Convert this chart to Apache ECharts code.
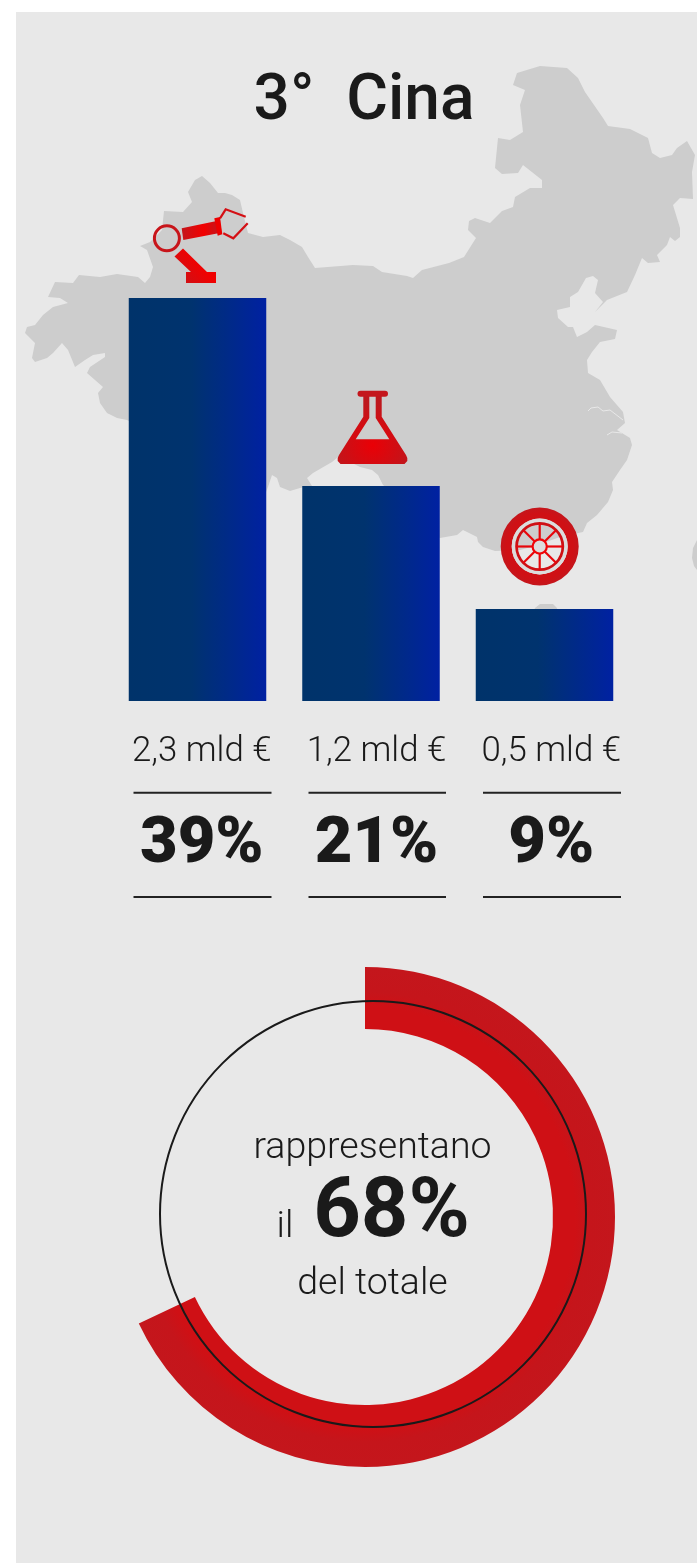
<!DOCTYPE html>
<html lang="it">
<head>
<meta charset="utf-8">
<title>3° Cina</title>
<style>html,body{margin:0;padding:0;background:#fff}#c{width:697px;height:1563px}</style>
<script src="https://cdn.jsdelivr.net/npm/echarts@6/dist/echarts.min.js"></script>
</head>
<body>
<div id="c"></div>
<script>
// ---- data ----
const titleText = '3°  Cina';
const categories = ['Macchinari', 'Chimica', 'Gomma'];
const barValues = [39, 20.8, 8.9];
const amountLabels = ['2,3 mld €', '1,2 mld €', '0,5 mld €'];
const shareLabels = ['39%', '21%', '9%'];
const totalShare = 68;
const restShare = 32;
const centerLines = ['rappresentano', 'il', '68%', 'del totale'];

// ---- decorative map silhouette, in page pixels ----
const mapOutline = [[202,176],[210,183],[218,193],[225,193],[232,195],[240,200],[243,213],[248,233],[263,237],[280,235],[290,240],[302,247],[308,257],[315,268],[353,265],[373,266],[382,272],[407,276],[413,278],[422,270],[449,263],[464,257],[476,238],[468,230],[469,221],[475,218],[490,223],[502,211],[513,207],[515,197],[530,188],[542,188],[542,180],[523,165],[518,173],[502,174],[495,168],[498,138],[510,140],[523,132],[520,105],[525,90],[513,85],[517,73],[540,66],[567,68],[578,78],[585,92],[603,118],[608,126],[630,129],[648,138],[652,153],[660,158],[672,155],[677,148],[687,141],[695,155],[692,172],[693,199],[680,198],[673,205],[680,228],[680,237],[675,241],[670,237],[667,245],[657,255],[660,262],[648,263],[642,258],[635,275],[627,292],[607,300],[595,312],[603,302],[595,293],[598,280],[593,276],[586,278],[578,292],[570,297],[570,307],[557,310],[558,318],[568,327],[573,327],[577,337],[587,332],[595,325],[617,330],[615,339],[600,342],[592,352],[587,360],[588,373],[600,380],[610,397],[623,412],[625,423],[617,430],[630,438],[632,445],[627,460],[620,470],[612,482],[613,490],[608,502],[597,515],[587,523],[583,532],[560,537],[535,546],[520,550],[495,551],[483,547],[478,542],[477,537],[463,530],[457,535],[440,538],[420,530],[390,490],[383,485],[378,475],[372,470],[360,467],[350,462],[338,457],[332,462],[313,473],[307,478],[312,486],[300,488],[290,491],[280,487],[277,478],[272,475],[268,487],[266,492],[127,420],[117,418],[107,413],[100,403],[98,393],[103,387],[87,373],[90,367],[105,357],[105,353],[93,355],[85,360],[75,367],[68,350],[62,343],[53,353],[47,358],[35,362],[32,358],[35,343],[25,333],[27,327],[35,325],[43,315],[53,307],[68,303],[60,298],[48,297],[55,282],[73,283],[79,275],[100,277],[117,274],[138,277],[145,283],[150,277],[153,267],[147,250],[140,246],[150,242],[162,230],[164,211],[183,212],[192,202],[188,192],[195,180]];
const mapTaiwan = [[697,540],[693,548],[692,558],[694,566],[697,570]];
const mapHainan = [[533,612],[535,608],[540,604],[553,604],[557,608],[558,615]];
const mapRivers = [[[588,411],[591,408],[598,407],[603,411],[610,410],[623,420]],[[607,435],[612,432],[622,433]]];

const FONT = 'Roboto';
const INK = '#1a1a1a';
const MAP = '#cdcdcd';
const PANEL = '#e8e8e8';

const barGrad = {type:'linear',x:0,y:0,x2:1,y2:0,colorStops:[{offset:0,color:'#00336a'},{offset:.45,color:'#00336e'},{offset:1,color:'#0021a2'}]};
const iconH = {type:'linear',x:0,y:0,x2:1,y2:0,colorStops:[{offset:0,color:'#c4161c'},{offset:.6,color:'#f20000'},{offset:1,color:'#c4161c'}]};
const iconV = {type:'linear',x:0,y:1,x2:1,y2:0,colorStops:[{offset:0,color:'#c4161c'},{offset:.6,color:'#f20000'},{offset:1,color:'#e00000'}]};
const flaskGrad = {type:'radial',x:.5,y:.72,r:.62,colorStops:[{offset:0,color:'#ea0006'},{offset:1,color:'#bd171d'}]};
const ringGrad = {type:'radial',x:365,y:1217,r:250,global:true,colorStops:[{offset:0,color:'#cf1015'},{offset:.84,color:'#cf1015'},{offset:.9,color:'#c5151b'},{offset:1,color:'#c4161c'}]};

function poly(points, fill, z){return {type:'polygon',silent:true,z:z||5,shape:{points},style:{fill}};}
function stroke(points, col, w, z){return {type:'polyline',silent:true,z:z||5,shape:{points},style:{fill:null,stroke:col,lineWidth:w}};}
function rule(x1,x2,y){return {type:'line',silent:true,z:5,shape:{x1,y1:y,x2,y2:y},style:{stroke:'#222',lineWidth:2}};}
function txt(text,x,y,size,weight,align){return {type:'text',silent:true,z:12,x,y,style:{text,fill:INK,fontFamily:FONT,fontSize:size,fontWeight:weight,align:align||'center',verticalAlign:'middle'}};}

const WX=539.7, WY=546.5;
const wheelParts = [
 {type:'ring',silent:true,z:5,shape:{cx:WX,cy:WY,r:39,r0:28},style:{fill:{type:'radial',x:.5,y:.5,r:.5,colorStops:[{offset:0,color:'#d01015'},{offset:.85,color:'#cf1015'},{offset:1,color:'#c4161c'}]}}},
 {type:'ring',silent:true,z:5,shape:{cx:WX,cy:WY,r:28,r0:24.5},style:{fill:'#dcdcdc'}},
 {type:'ring',silent:true,z:5,shape:{cx:WX,cy:WY,r:24.5,r0:21.8},style:{fill:'#cf1015'}}
];
[0,45,90,135,180,225,270,315].forEach(function(a){
  const c=Math.cos(a*Math.PI/180), s=Math.sin(a*Math.PI/180);
  wheelParts.push({type:'line',silent:true,z:5,shape:{x1:WX+c*7,y1:WY+s*7,x2:WX+c*23,y2:WY+s*23},style:{stroke:'#e8060b',lineWidth:2.2}});
});
wheelParts.push({type:'circle',silent:true,z:6,shape:{cx:WX,cy:WY,r:6},style:{fill:'#dcdcdc'}});
wheelParts.push({type:'ring',silent:true,z:6,shape:{cx:WX,cy:WY,r:8.2,r0:6},style:{fill:'#f00408'}});

const graphics = [
 {type:'rect',silent:true,z:-30,shape:{x:16,y:12,width:681,height:1551},style:{fill:PANEL}},
 poly(mapOutline,MAP,-20), poly(mapTaiwan,MAP,-20), poly(mapHainan,MAP,-20),
 stroke(mapRivers[0],PANEL,1,-19), stroke(mapRivers[1],PANEL,1,-19),
 // robot arm icon
 {type:'ring',silent:true,z:5,shape:{cx:166.9,cy:238.3,r:14,r0:11},style:{fill:'#c8141a'}},
 poly([[181.7,228.3],[216.7,221],[218.3,233.3],[183.3,240]],iconH),
 poly([[214.3,218.3],[220,217],[222.3,234.3],[217.7,235.7]],'#ee0000'),
 stroke([[220,218.3],[225.7,209.3],[245.7,216.7]],'#d40f14',2.2),
 stroke([[223.3,233.3],[233.3,238.3],[247.7,223.3]],'#d40f14',2.2),
 poly([[174.5,256.5],[183,248.5],[207,272],[216,272],[216,283],[186,283],[186,272],[191,272]],iconV),
 // flask icon
 poly([[363.3,396],[369.3,396],[369.3,418],[355.7,439.3],[389.3,439.3],[375.7,418],[375.7,396],[381.7,396],[381.7,416.7],[406,455],[407.3,458],[407.3,461],[404.5,464],[340.5,464],[337.7,461],[337.7,458],[339,455],[363.3,416.7]],flaskGrad),
 {type:'rect',silent:true,z:5,shape:{x:357.5,y:390.7,width:30.5,height:6,r:3},style:{fill:'#c4161c'}}
].concat(wheelParts,[
 // rules
 rule(133.5,271.5,792.8), rule(308.5,446,792.8), rule(483,621,792.8),
 rule(133.5,271.5,897), rule(308.5,446,897), rule(483,621,897),
 // thin circle
 {type:'circle',silent:true,z:10,shape:{cx:373,cy:1214,r:213},style:{fill:null,stroke:INK,lineWidth:2}},
 // centre text
 txt(centerLines[0],372.5,1149,37.5,300),
 txt(centerLines[1],285,1228,37.5,300),
 txt(centerLines[2],391.5,1215,83,700),
 txt(centerLines[3],372.5,1285,37.5,300)
]);

const chart = echarts.init(document.getElementById('c'), null, {renderer:'canvas', width:697, height:1563});
chart.setOption({
  animation:false,
  backgroundColor:'#ffffff',
  title:{text:titleText,left:359,top:66,textAlign:'center',textStyle:{fontFamily:FONT,fontSize:64,fontWeight:500,color:INK}},
  grid:[
    {left:110.75,width:520.5,top:287.67,height:413.33},
    {left:114.4,width:524.25,top:700,height:1}
  ],
  xAxis:[
    {gridIndex:0,type:'category',data:categories,show:false},
    {gridIndex:1,type:'category',data:amountLabels,position:'bottom',axisLine:{show:false},axisTick:{show:false},
     axisLabel:{margin:34,color:INK,fontFamily:FONT,fontSize:34.8,fontWeight:300,interval:0,hideOverlap:false}},
    {gridIndex:1,type:'category',data:shareLabels,position:'bottom',axisLine:{show:false},axisTick:{show:false},
     axisLabel:{margin:112,color:INK,fontFamily:FONT,fontSize:65,fontWeight:900,interval:0,hideOverlap:false}}
  ],
  yAxis:[
    {gridIndex:0,type:'value',min:0,max:40,show:false},
    {gridIndex:1,type:'value',min:0,max:1,show:false}
  ],
  series:[
    {type:'bar',xAxisIndex:0,yAxisIndex:0,data:barValues,barWidth:137.5,itemStyle:{color:barGrad},silent:true,z:3},
    {type:'pie',center:[365,1217],radius:[188,250],startAngle:90,clockwise:true,silent:true,label:{show:false},labelLine:{show:false},z:4,
     data:[{value:totalShare,name:'Primi tre settori',itemStyle:{color:ringGrad}},{value:restShare,name:'Altri',itemStyle:{color:'transparent'}}]}
  ],
  graphic:{elements:graphics}
});
</script>
</body>
</html>
